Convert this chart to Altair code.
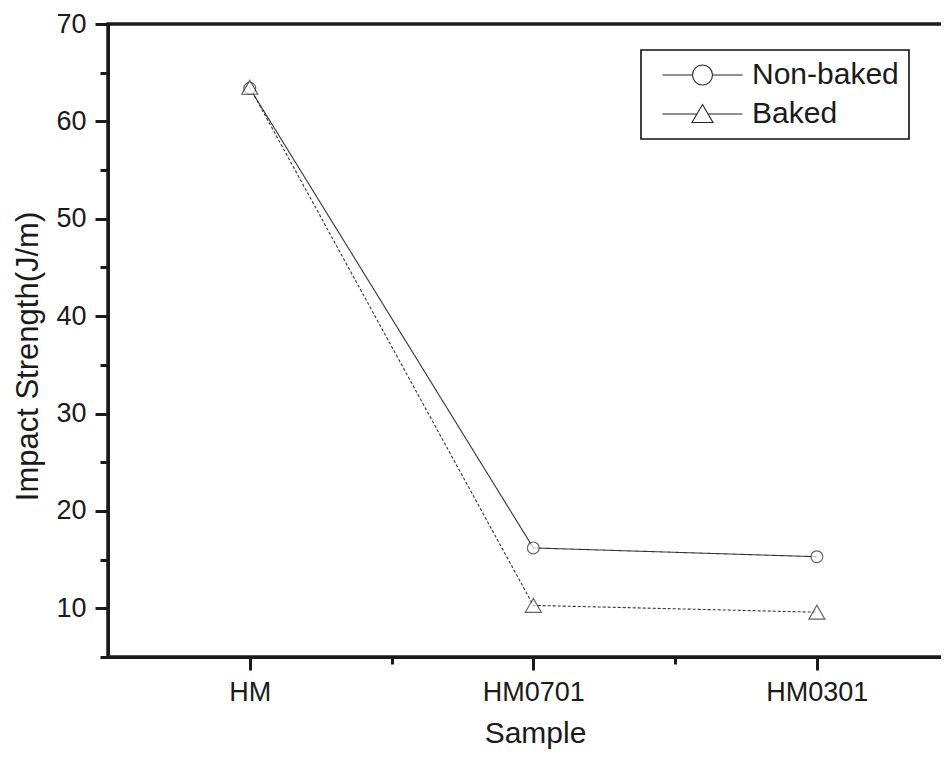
import altair as alt
import pandas as pd

# ---- data ----
samples = ["HM", "HM0701", "HM0301"]
series = ["Non-baked", "Baked"]
non_baked = [63.4, 16.2, 15.3]
baked = [63.5, 10.3, 9.6]
y_ticks = [10, 20, 30, 40, 50, 60, 70]
y_minor = [5, 15, 25, 35, 45, 55, 65]
x_major = [0, 1, 2]
x_minor = [0.5, 1.5]

rows = []
for i, s in enumerate(samples):
    rows.append({"idx": i, "sample": s, "series": "Non-baked", "value": non_baked[i]})
for i, s in enumerate(samples):
    rows.append({"idx": i, "sample": s, "series": "Baked", "value": baked[i]})
df = pd.DataFrame(rows)

FONT = "Liberation Sans"
INK = "#1a1a1a"

xscale = alt.Scale(domain=[-0.5, 2.466], nice=False, zero=False)
yscale = alt.Scale(domain=[5, 70], nice=False, zero=False)
label_expr = "[" + ",".join(f"'{s}'" for s in samples) + "][datum.value]"

common_axis = dict(grid=False, domainColor=INK, tickColor=INK, labelColor=INK,
                   titleColor=INK, labelFont=FONT, titleFont=FONT,
                   labelFlush=False, labelOverlap=False, tickWidth=3, domainWidth=3)

x_main_axis = alt.Axis(orient="bottom", values=x_major, labelExpr=label_expr,
                       title="Sample", tickSize=13, labelPadding=9,
                       labelFontSize=27, titleFontSize=30, titleFontWeight="normal",
                       titlePadding=13, titleX=427, **common_axis)
y_main_axis = alt.Axis(orient="left", values=y_ticks, title="Impact Strength(J/m)",
                       tickSize=13, labelPadding=9, labelFontSize=27,
                       titleFontSize=31, titleFontWeight="normal", titleAngle=270,
                       titleX=-71, titleY=332, titleBaseline="alphabetic",
                       **common_axis)
x_minor_axis = alt.Axis(orient="bottom", values=x_minor, labels=False, title=None,
                        domain=False, tickSize=7, tickWidth=3, tickColor=INK, grid=False)
y_minor_axis = alt.Axis(orient="left", values=y_minor, labels=False, title=None,
                        domain=False, tickSize=8, tickWidth=3, tickColor=INK, grid=False)

lines = alt.Chart(df).mark_line(color="#333333", strokeWidth=1.1).encode(
    x=alt.X("idx:Q", scale=xscale, axis=x_main_axis),
    y=alt.Y("value:Q", scale=yscale, axis=y_main_axis),
    strokeDash=alt.StrokeDash("series:N",
                              scale=alt.Scale(domain=series, range=[[1, 0], [3, 2]]),
                              legend=None),
)

points = alt.Chart(df).mark_point(filled=True, fill="white", stroke="#222222",
                                  strokeWidth=1.2).encode(
    x=alt.X("idx:Q", scale=xscale, axis=None),
    y=alt.Y("value:Q", scale=yscale, axis=None),
    shape=alt.Shape("series:N",
                    scale=alt.Scale(domain=series, range=["circle", "triangle-up"]),
                    legend=None),
    size=alt.Size("series:N", scale=alt.Scale(domain=series, range=[140, 256]),
                  legend=None),
)

# legend symbols: line - marker - line (unit = 10 px)
circle_path = ("M -0.35 0 L 2.65 0 M 4.65 0 L 7.65 0 "
               "M 4.65 0 A 1 1 0 1 1 2.65 0 A 1 1 0 1 1 4.65 0")
tri_path = ("M -0.35 0 L 3.1 0 M 4.2 0 L 7.65 0 "
            "M 3.65 -0.95 L 4.7 0.85 L 2.6 0.85 Z")

legend = alt.Legend(
    title=None, orient="none", legendX=533, legendY=26, padding=10,
    strokeColor="#111111", rowPadding=9, labelFont=FONT, labelFontSize=30,
    labelColor=INK, labelOffset=71, labelLimit=400, symbolSize=400,
    symbolStrokeWidth=1.1, symbolStrokeColor="#222222", symbolFillColor="white",
    symbolOpacity=1, labelExpr="datum.label + '\u00a0\u00a0'",
)

legend_layer = alt.Chart(df).transform_filter("false").mark_point(
    filled=False, stroke="#222222", strokeWidth=1.1
).encode(
    x=alt.X("idx:Q", scale=xscale, axis=None),
    y=alt.Y("value:Q", scale=yscale, axis=None),
    shape=alt.Shape("series:N",
                    scale=alt.Scale(domain=series, range=[circle_path, tri_path]),
                    legend=legend),
)

minor = alt.Chart(df).mark_point(opacity=0).encode(
    x=alt.X("idx:Q", scale=xscale, axis=x_minor_axis),
    y=alt.Y("value:Q", scale=yscale, axis=y_minor_axis),
)

chart = alt.layer(lines, points, legend_layer, minor).resolve_axis(
    x="independent", y="independent"
).resolve_scale(shape="independent").properties(
    width=841, height=633,
    padding={"left": 100, "top": 16, "right": -8, "bottom": 92},
    autosize=alt.AutoSizeParams(type="none"),
).configure(
    background="white",
    view=alt.ViewConfig(stroke=INK, strokeWidth=3.5),
    legend=alt.LegendConfig(strokeWidth=1.6),
)

chart.save("out.html", embed_options={"renderer": "svg", "actions": False})
